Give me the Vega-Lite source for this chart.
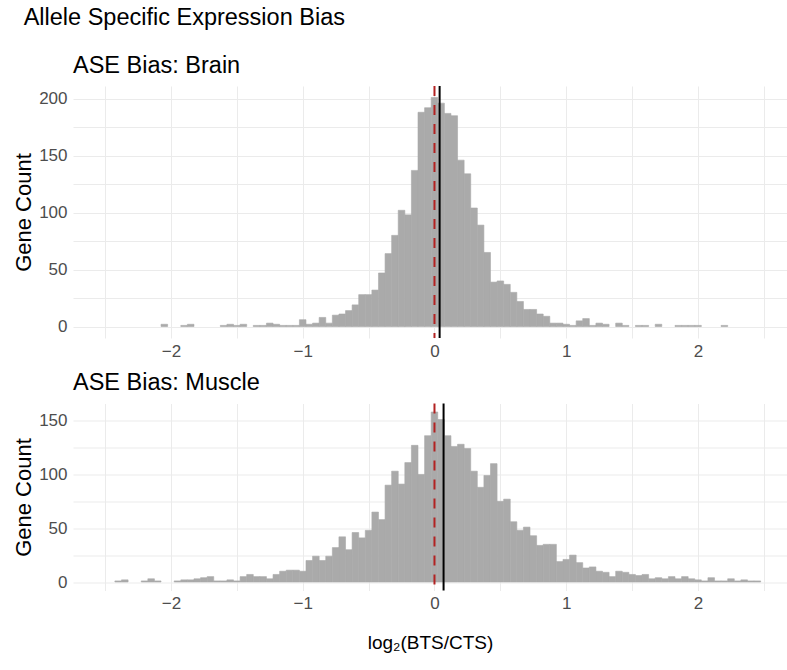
{
  "$schema": "https://vega.github.io/schema/vega-lite/v6.json",
  "background": "white",
  "padding": {"left": 12, "top": 6, "right": 0, "bottom": 0},
  "title": {"text": "Allele Specific Expression Bias", "anchor": "start", "frame": "bounds", "dx": 11, "fontSize": 23.5, "font": "Liberation Sans", "fontWeight": "normal", "color": "black", "offset": 24.5},
  "config": {
    "view": {"stroke": null},
    "font": "Liberation Sans",
    "concat": {"spacing": 11.5},
    "axis": {"domain": false, "ticks": false, "gridColor": "#EBEBEB", "gridWidth": 1, "labelFont": "Liberation Sans", "labelFontSize": 17, "labelColor": "#4D4D4D", "titleFont": "Liberation Sans", "titleFontSize": 22, "titleFontWeight": "normal", "titleColor": "black"}
  },
  "datasets": {
    "brain": [
      {"x0": -2.075, "x1": -2.025, "count": 2},
      {"x0": -1.925, "x1": -1.875, "count": 1},
      {"x0": -1.875, "x1": -1.825, "count": 2},
      {"x0": -1.625, "x1": -1.575, "count": 1},
      {"x0": -1.575, "x1": -1.525, "count": 2},
      {"x0": -1.525, "x1": -1.475, "count": 1},
      {"x0": -1.475, "x1": -1.425, "count": 2},
      {"x0": -1.375, "x1": -1.325, "count": 1},
      {"x0": -1.325, "x1": -1.275, "count": 1},
      {"x0": -1.275, "x1": -1.225, "count": 3},
      {"x0": -1.225, "x1": -1.175, "count": 2},
      {"x0": -1.175, "x1": -1.125, "count": 1},
      {"x0": -1.125, "x1": -1.075, "count": 1},
      {"x0": -1.075, "x1": -1.025, "count": 1},
      {"x0": -1.025, "x1": -0.975, "count": 6},
      {"x0": -0.975, "x1": -0.925, "count": 2},
      {"x0": -0.925, "x1": -0.875, "count": 3},
      {"x0": -0.875, "x1": -0.825, "count": 8},
      {"x0": -0.825, "x1": -0.775, "count": 3},
      {"x0": -0.775, "x1": -0.725, "count": 10},
      {"x0": -0.725, "x1": -0.675, "count": 11},
      {"x0": -0.675, "x1": -0.625, "count": 14},
      {"x0": -0.625, "x1": -0.575, "count": 19},
      {"x0": -0.575, "x1": -0.525, "count": 28},
      {"x0": -0.525, "x1": -0.475, "count": 28},
      {"x0": -0.475, "x1": -0.425, "count": 32},
      {"x0": -0.425, "x1": -0.375, "count": 47},
      {"x0": -0.375, "x1": -0.325, "count": 64},
      {"x0": -0.325, "x1": -0.275, "count": 80},
      {"x0": -0.275, "x1": -0.225, "count": 102},
      {"x0": -0.225, "x1": -0.175, "count": 98},
      {"x0": -0.175, "x1": -0.125, "count": 137},
      {"x0": -0.125, "x1": -0.075, "count": 188},
      {"x0": -0.075, "x1": -0.025, "count": 192},
      {"x0": -0.025, "x1": 0.025, "count": 201},
      {"x0": 0.025, "x1": 0.075, "count": 196},
      {"x0": 0.075, "x1": 0.125, "count": 187},
      {"x0": 0.125, "x1": 0.175, "count": 185},
      {"x0": 0.175, "x1": 0.225, "count": 146},
      {"x0": 0.225, "x1": 0.275, "count": 134},
      {"x0": 0.275, "x1": 0.325, "count": 104},
      {"x0": 0.325, "x1": 0.375, "count": 89},
      {"x0": 0.375, "x1": 0.425, "count": 65},
      {"x0": 0.425, "x1": 0.475, "count": 39},
      {"x0": 0.475, "x1": 0.525, "count": 40},
      {"x0": 0.525, "x1": 0.575, "count": 37},
      {"x0": 0.575, "x1": 0.625, "count": 30},
      {"x0": 0.625, "x1": 0.675, "count": 22},
      {"x0": 0.675, "x1": 0.725, "count": 15},
      {"x0": 0.725, "x1": 0.775, "count": 15},
      {"x0": 0.775, "x1": 0.825, "count": 11},
      {"x0": 0.825, "x1": 0.875, "count": 9},
      {"x0": 0.875, "x1": 0.925, "count": 3},
      {"x0": 0.925, "x1": 0.975, "count": 3},
      {"x0": 0.975, "x1": 1.025, "count": 2},
      {"x0": 1.025, "x1": 1.075, "count": 1},
      {"x0": 1.075, "x1": 1.125, "count": 5},
      {"x0": 1.125, "x1": 1.175, "count": 7},
      {"x0": 1.175, "x1": 1.225, "count": 1},
      {"x0": 1.225, "x1": 1.275, "count": 3},
      {"x0": 1.275, "x1": 1.325, "count": 2},
      {"x0": 1.375, "x1": 1.425, "count": 3},
      {"x0": 1.425, "x1": 1.475, "count": 1},
      {"x0": 1.525, "x1": 1.575, "count": 1},
      {"x0": 1.575, "x1": 1.625, "count": 1},
      {"x0": 1.675, "x1": 1.725, "count": 2},
      {"x0": 1.825, "x1": 1.875, "count": 1},
      {"x0": 1.875, "x1": 1.925, "count": 1},
      {"x0": 1.925, "x1": 1.975, "count": 1},
      {"x0": 1.975, "x1": 2.025, "count": 1},
      {"x0": 2.175, "x1": 2.225, "count": 1}
    ],
    "muscle": [
      {"x0": -2.425, "x1": -2.375, "count": 1},
      {"x0": -2.375, "x1": -2.325, "count": 2},
      {"x0": -2.225, "x1": -2.175, "count": 1},
      {"x0": -2.175, "x1": -2.125, "count": 3},
      {"x0": -2.125, "x1": -2.075, "count": 1},
      {"x0": -1.975, "x1": -1.925, "count": 1},
      {"x0": -1.925, "x1": -1.875, "count": 2},
      {"x0": -1.875, "x1": -1.825, "count": 2},
      {"x0": -1.825, "x1": -1.775, "count": 3},
      {"x0": -1.775, "x1": -1.725, "count": 4},
      {"x0": -1.725, "x1": -1.675, "count": 5},
      {"x0": -1.675, "x1": -1.625, "count": 1},
      {"x0": -1.625, "x1": -1.575, "count": 1},
      {"x0": -1.575, "x1": -1.525, "count": 2},
      {"x0": -1.525, "x1": -1.475, "count": 1},
      {"x0": -1.475, "x1": -1.425, "count": 5},
      {"x0": -1.425, "x1": -1.375, "count": 7},
      {"x0": -1.375, "x1": -1.325, "count": 5},
      {"x0": -1.325, "x1": -1.275, "count": 5},
      {"x0": -1.275, "x1": -1.225, "count": 3},
      {"x0": -1.225, "x1": -1.175, "count": 7},
      {"x0": -1.175, "x1": -1.125, "count": 10},
      {"x0": -1.125, "x1": -1.075, "count": 11},
      {"x0": -1.075, "x1": -1.025, "count": 11},
      {"x0": -1.025, "x1": -0.975, "count": 10},
      {"x0": -0.975, "x1": -0.925, "count": 20},
      {"x0": -0.925, "x1": -0.875, "count": 24},
      {"x0": -0.875, "x1": -0.825, "count": 20},
      {"x0": -0.825, "x1": -0.775, "count": 24},
      {"x0": -0.775, "x1": -0.725, "count": 32},
      {"x0": -0.725, "x1": -0.675, "count": 42},
      {"x0": -0.675, "x1": -0.625, "count": 30},
      {"x0": -0.625, "x1": -0.575, "count": 46},
      {"x0": -0.575, "x1": -0.525, "count": 41},
      {"x0": -0.525, "x1": -0.475, "count": 48},
      {"x0": -0.475, "x1": -0.425, "count": 65},
      {"x0": -0.425, "x1": -0.375, "count": 58},
      {"x0": -0.375, "x1": -0.325, "count": 90},
      {"x0": -0.325, "x1": -0.275, "count": 103},
      {"x0": -0.275, "x1": -0.225, "count": 91},
      {"x0": -0.225, "x1": -0.175, "count": 111},
      {"x0": -0.175, "x1": -0.125, "count": 127},
      {"x0": -0.125, "x1": -0.075, "count": 100},
      {"x0": -0.075, "x1": -0.025, "count": 136},
      {"x0": -0.025, "x1": 0.025, "count": 158},
      {"x0": 0.025, "x1": 0.075, "count": 151},
      {"x0": 0.075, "x1": 0.125, "count": 136},
      {"x0": 0.125, "x1": 0.175, "count": 126},
      {"x0": 0.175, "x1": 0.225, "count": 128},
      {"x0": 0.225, "x1": 0.275, "count": 124},
      {"x0": 0.275, "x1": 0.325, "count": 103},
      {"x0": 0.325, "x1": 0.375, "count": 88},
      {"x0": 0.375, "x1": 0.425, "count": 99},
      {"x0": 0.425, "x1": 0.475, "count": 110},
      {"x0": 0.475, "x1": 0.525, "count": 75},
      {"x0": 0.525, "x1": 0.575, "count": 77},
      {"x0": 0.575, "x1": 0.625, "count": 56},
      {"x0": 0.625, "x1": 0.675, "count": 48},
      {"x0": 0.675, "x1": 0.725, "count": 51},
      {"x0": 0.725, "x1": 0.775, "count": 43},
      {"x0": 0.775, "x1": 0.825, "count": 34},
      {"x0": 0.825, "x1": 0.875, "count": 35},
      {"x0": 0.875, "x1": 0.925, "count": 35},
      {"x0": 0.925, "x1": 0.975, "count": 19},
      {"x0": 0.975, "x1": 1.025, "count": 21},
      {"x0": 1.025, "x1": 1.075, "count": 25},
      {"x0": 1.075, "x1": 1.125, "count": 18},
      {"x0": 1.125, "x1": 1.175, "count": 13},
      {"x0": 1.175, "x1": 1.225, "count": 14},
      {"x0": 1.225, "x1": 1.275, "count": 10},
      {"x0": 1.275, "x1": 1.325, "count": 9},
      {"x0": 1.325, "x1": 1.375, "count": 5},
      {"x0": 1.375, "x1": 1.425, "count": 10},
      {"x0": 1.425, "x1": 1.475, "count": 9},
      {"x0": 1.475, "x1": 1.525, "count": 7},
      {"x0": 1.525, "x1": 1.575, "count": 6},
      {"x0": 1.575, "x1": 1.625, "count": 7},
      {"x0": 1.625, "x1": 1.675, "count": 3},
      {"x0": 1.675, "x1": 1.725, "count": 4},
      {"x0": 1.725, "x1": 1.775, "count": 3},
      {"x0": 1.775, "x1": 1.825, "count": 5},
      {"x0": 1.825, "x1": 1.875, "count": 3},
      {"x0": 1.875, "x1": 1.925, "count": 5},
      {"x0": 1.925, "x1": 1.975, "count": 3},
      {"x0": 1.975, "x1": 2.025, "count": 2},
      {"x0": 2.025, "x1": 2.075, "count": 1},
      {"x0": 2.075, "x1": 2.125, "count": 4},
      {"x0": 2.125, "x1": 2.175, "count": 1},
      {"x0": 2.175, "x1": 2.225, "count": 1},
      {"x0": 2.225, "x1": 2.275, "count": 3},
      {"x0": 2.275, "x1": 2.325, "count": 1},
      {"x0": 2.325, "x1": 2.375, "count": 2},
      {"x0": 2.375, "x1": 2.425, "count": 1},
      {"x0": 2.425, "x1": 2.475, "count": 1}
    ]
  },
  "vconcat": [
    {
      "width": 714,
      "height": 252,
      "title": {"text": "ASE Bias: Brain", "anchor": "start", "frame": "group", "fontSize": 23.5, "font": "Liberation Sans", "fontWeight": "normal", "color": "black", "offset": 7.5},
      "layer": [
        {
          "data": {"name": "brain"},
          "mark": {"type": "bar", "color": "#AAAAAA", "stroke": "#AAAAAA", "strokeWidth": 0.6},
          "encoding": {
            "x": {"field": "x0", "type": "quantitative", "title": null,
                  "scale": {"domain": [-2.743, 2.675], "nice": false, "zero": false},
                  "axis": {"values": [-2.5, -2, -1.5, -1, -0.5, 0, 0.5, 1, 1.5, 2, 2.5], "labelExpr": "datum.value % 1 === 0 ? replace(datum.label, '.0', '') : ''", "labelPadding": 5, "labelFlush": false, "labelOverlap": false}},
            "x2": {"field": "x1"},
            "y": {"field": "count", "type": "quantitative", "title": "Gene Count",
                  "scale": {"domain": [-10.05, 211.05], "nice": false, "zero": false},
                  "axis": {"values": [0, 25, 50, 75, 100, 125, 150, 175, 200], "labelExpr": "datum.value % 50 === 0 ? datum.label : ''", "labelPadding": 6, "titlePadding": 3}},
            "y2": {"datum": 0}
          }
        },
        {
          "data": {"values": [{"v": 0}]},
          "mark": {"type": "rule", "color": "#B22222", "strokeWidth": 2, "strokeDash": [10, 9]},
          "encoding": {"x": {"field": "v", "type": "quantitative", "title": null}}
        },
        {
          "data": {"values": [{"v": 0.039}]},
          "mark": {"type": "rule", "color": "black", "strokeWidth": 2},
          "encoding": {"x": {"field": "v", "type": "quantitative", "title": null}}
        }
      ]
    },
    {
      "width": 714,
      "height": 187,
      "title": {"text": "ASE Bias: Muscle", "anchor": "start", "frame": "group", "fontSize": 23.5, "font": "Liberation Sans", "fontWeight": "normal", "color": "black", "offset": 8.5},
      "layer": [
        {
          "data": {"name": "muscle"},
          "mark": {"type": "bar", "color": "#AAAAAA", "stroke": "#AAAAAA", "strokeWidth": 0.6},
          "encoding": {
            "x": {"field": "x0", "type": "quantitative", "title": "log\u2082(BTS/CTS)",
                  "scale": {"domain": [-2.743, 2.675], "nice": false, "zero": false},
                  "axis": {"values": [-2.5, -2, -1.5, -1, -0.5, 0, 0.5, 1, 1.5, 2, 2.5], "labelExpr": "datum.value % 1 === 0 ? replace(datum.label, '.0', '') : ''", "labelPadding": 5, "labelFlush": false, "labelOverlap": false, "titleFontSize": 19, "titlePadding": 22}},
            "x2": {"field": "x1"},
            "y": {"field": "count", "type": "quantitative", "title": "Gene Count",
                  "scale": {"domain": [-7.9, 165.9], "nice": false, "zero": false},
                  "axis": {"values": [0, 25, 50, 75, 100, 125, 150], "labelExpr": "datum.value % 50 === 0 ? datum.label : ''", "labelPadding": 6, "titlePadding": 3}},
            "y2": {"datum": 0}
          }
        },
        {
          "data": {"values": [{"v": 0}]},
          "mark": {"type": "rule", "color": "#B22222", "strokeWidth": 2, "strokeDash": [10, 9]},
          "encoding": {"x": {"field": "v", "type": "quantitative", "title": "log\u2082(BTS/CTS)"}}
        },
        {
          "data": {"values": [{"v": 0.069}]},
          "mark": {"type": "rule", "color": "black", "strokeWidth": 2},
          "encoding": {"x": {"field": "v", "type": "quantitative", "title": "log\u2082(BTS/CTS)"}}
        }
      ]
    }
  ]
}
